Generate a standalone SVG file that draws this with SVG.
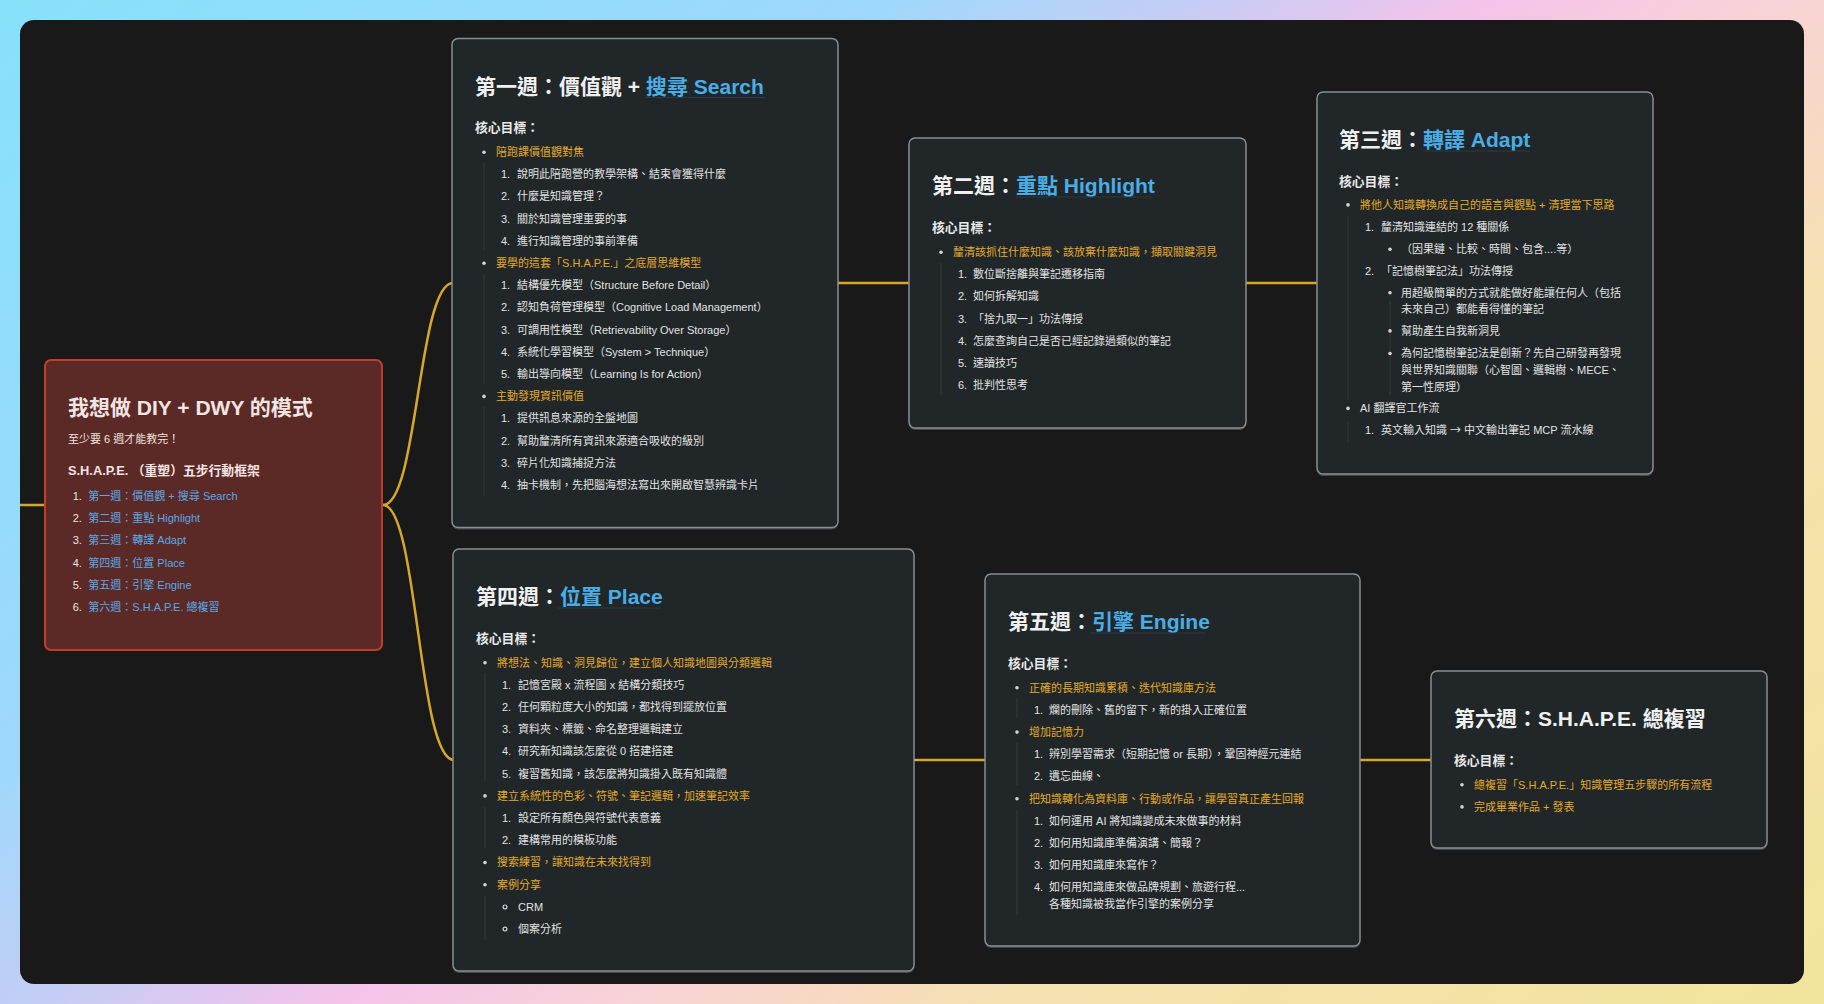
<svg xmlns="http://www.w3.org/2000/svg" width="1824" height="1004" viewBox="0 0 1824 1004">
<defs>
<linearGradient id="bg" gradientUnits="userSpaceOnUse" x1="0" y1="0" x2="1287" y2="1473">
<stop offset="0" stop-color="#86e1f9"/>
<stop offset="0.3" stop-color="#9fd8fb"/>
<stop offset="0.4" stop-color="#c4cdf5"/>
<stop offset="0.5" stop-color="#f5c3ea"/>
<stop offset="0.6" stop-color="#f8d3d6"/>
<stop offset="0.72" stop-color="#f5e0b0"/>
<stop offset="1" stop-color="#f2e49c"/>
</linearGradient>
<style>
text{font-family:'Liberation Sans','Noto Sans CJK TC',sans-serif;}
.node{fill:#212729;stroke:#8a8d90;stroke-width:1.5;}
.sh{fill:#44474a;}
.root{fill:#5b2a27;stroke:#c43d2c;stroke-width:2;}
.t{font-size:21px;font-weight:bold;fill:#f0f0f0;}
.tb{fill:#4aaee6;}
.ul{stroke:#283a44;stroke-width:1;}
.h{font-size:12.8px;font-weight:bold;fill:#e8e8e8;}
.b{font-size:11px;fill:#e2e2e2;}
.y{font-size:11px;fill:#e2aa2c;}
.lk{font-size:11px;fill:#5aa8e6;}
.rb{font-size:11px;fill:#efe2df;}
.ar{font-family:'Noto Sans CJK TC',sans-serif;}
.dot{fill:#d4d4d4;}
.odot{fill:none;stroke:#d4d4d4;stroke-width:1.2;}
.gl{stroke:#33393c;stroke-width:1;}
.con{fill:none;stroke:#d6a82a;stroke-width:2.5;}
</style>
</defs>
<rect x="0" y="0" width="1824" height="1004" fill="url(#bg)"/>
<rect x="20" y="20" width="1784" height="964" rx="14" fill="#191919"/>

<g id="connectors">
<path class="con" d="M20,505 H46"/>
<path class="con" d="M383,505 C418,505 418,283 453,283"/>
<path class="con" d="M383,505 C418,505 418,760 454,760"/>
<path class="con" d="M838,283 H909"/>
<path class="con" d="M1246,283 H1317"/>
<path class="con" d="M914,760 H985"/>
<path class="con" d="M1360,760 H1431"/>
</g>

<g id="root">
<rect class="root" x="45" y="360" width="337" height="290" rx="6"/>
<text class="t" x="68" y="415" style="fill:#f3e5e2">我想做 DIY + DWY 的模式</text>
<text class="rb" x="68" y="442.7">至少要 6 週才能教完！</text>
<text class="h" x="68" y="475" style="fill:#f3e5e2">S.H.A.P.E. （重塑）五步行動框架</text>
<text class="rb" x="72.7" y="500">1.</text><text class="lk" x="88.3" y="500">第一週：價值觀 + 搜尋 Search</text>
<text class="rb" x="72.7" y="522.2">2.</text><text class="lk" x="88.3" y="522.2">第二週：重點 Highlight</text>
<text class="rb" x="72.7" y="544.4">3.</text><text class="lk" x="88.3" y="544.4">第三週：轉譯 Adapt</text>
<text class="rb" x="72.7" y="566.6">4.</text><text class="lk" x="88.3" y="566.6">第四週：位置 Place</text>
<text class="rb" x="72.7" y="588.8">5.</text><text class="lk" x="88.3" y="588.8">第五週：引擎 Engine</text>
<text class="rb" x="72.7" y="611">6.</text><text class="lk" x="88.3" y="611">第六週：S.H.A.P.E. 總複習</text>
</g>

<g id="week1">
<rect class="sh" x="452" y="40.5" width="386" height="489" rx="6"/>
<rect class="node" x="452" y="38.5" width="386" height="489" rx="6"/>
<text class="t" x="475" y="93.5">第一週：價值觀 + <tspan class="tb">搜尋 Search</tspan></text>
<line class="ul" x1="645" y1="97.5" x2="765" y2="97.5"/>
<text class="h" x="475" y="132">核心目標：</text>
<line class="gl" x1="484" y1="163" x2="484" y2="251"/>
<line class="gl" x1="484" y1="274" x2="484" y2="384"/>
<line class="gl" x1="484" y1="407" x2="484" y2="496"/>
<circle class="dot" cx="484" cy="152.2" r="1.8"/><text class="y" x="496" y="156">陪跑課價值觀對焦</text>
<text class="b" x="501" y="178.2">1.</text><text class="b" x="517" y="178.2">說明此陪跑營的教學架構、結束會獲得什麼</text>
<text class="b" x="501" y="200.4">2.</text><text class="b" x="517" y="200.4">什麼是知識管理？</text>
<text class="b" x="501" y="222.6">3.</text><text class="b" x="517" y="222.6">關於知識管理重要的事</text>
<text class="b" x="501" y="244.8">4.</text><text class="b" x="517" y="244.8">進行知識管理的事前準備</text>
<circle class="dot" cx="484" cy="263.2" r="1.8"/><text class="y" x="496" y="267">要學的這套「S.H.A.P.E.」之底層思維模型</text>
<text class="b" x="501" y="289.2">1.</text><text class="b" x="517" y="289.2">結構優先模型（Structure Before Detail）</text>
<text class="b" x="501" y="311.4">2.</text><text class="b" x="517" y="311.4">認知負荷管理模型（Cognitive Load Management）</text>
<text class="b" x="501" y="333.6">3.</text><text class="b" x="517" y="333.6">可調用性模型（Retrievability Over Storage）</text>
<text class="b" x="501" y="355.8">4.</text><text class="b" x="517" y="355.8">系統化學習模型（System &gt; Technique）</text>
<text class="b" x="501" y="378">5.</text><text class="b" x="517" y="378">輸出導向模型（Learning Is for Action）</text>
<circle class="dot" cx="484" cy="396.4" r="1.8"/><text class="y" x="496" y="400.2">主動發現資訊價值</text>
<text class="b" x="501" y="422.4">1.</text><text class="b" x="517" y="422.4">提供訊息來源的全盤地圖</text>
<text class="b" x="501" y="444.6">2.</text><text class="b" x="517" y="444.6">幫助釐清所有資訊來源適合吸收的級別</text>
<text class="b" x="501" y="466.8">3.</text><text class="b" x="517" y="466.8">碎片化知識捕捉方法</text>
<text class="b" x="501" y="489">4.</text><text class="b" x="517" y="489">抽卡機制，先把腦海想法寫出來開啟智慧辨識卡片</text>
</g>

<g id="week2">
<rect class="sh" x="909" y="140" width="337" height="290" rx="6"/>
<rect class="node" x="909" y="138" width="337" height="290" rx="6"/>
<text class="t" x="932" y="193">第二週：<tspan class="tb">重點 Highlight</tspan></text>
<line class="ul" x1="1016" y1="197" x2="1151" y2="197"/>
<text class="h" x="932" y="231.5">核心目標：</text>
<line class="gl" x1="941" y1="263" x2="941" y2="395"/>
<circle class="dot" cx="941" cy="252.2" r="1.8"/><text class="y" x="953" y="256">釐清該抓住什麼知識、該放棄什麼知識，擷取關鍵洞見</text>
<text class="b" x="958" y="278.2">1.</text><text class="b" x="973" y="278.2">數位斷捨離與筆記遷移指南</text>
<text class="b" x="958" y="300.4">2.</text><text class="b" x="973" y="300.4">如何拆解知識</text>
<text class="b" x="958" y="322.6">3.</text><text class="b" x="973" y="322.6">「捨九取一」功法傳授</text>
<text class="b" x="958" y="344.8">4.</text><text class="b" x="973" y="344.8">怎麼查詢自己是否已經記錄過類似的筆記</text>
<text class="b" x="958" y="367">5.</text><text class="b" x="973" y="367">速讀技巧</text>
<text class="b" x="958" y="389.2">6.</text><text class="b" x="973" y="389.2">批判性思考</text>
</g>

<g id="week3">
<rect class="sh" x="1317" y="94" width="336" height="382" rx="6"/>
<rect class="node" x="1317" y="92" width="336" height="382" rx="6"/>
<text class="t" x="1339" y="147">第三週：<tspan class="tb">轉譯 Adapt</tspan></text>
<line class="ul" x1="1423" y1="151" x2="1530" y2="151"/>
<text class="h" x="1339" y="185.5">核心目標：</text>
<line class="gl" x1="1348" y1="216" x2="1348" y2="400"/>
<line class="gl" x1="1348" y1="421" x2="1348" y2="443"/>
<line class="gl" x1="1390" y1="301" x2="1390" y2="395"/>
<circle class="dot" cx="1348" cy="204.9" r="1.8"/><text class="y" x="1360" y="208.7">將他人知識轉換成自己的語言與觀點 + 清理當下思路</text>
<text class="b" x="1365" y="230.5">1.</text><text class="b" x="1381" y="230.5">釐清知識連結的 12 種關係</text>
<circle class="dot" cx="1390" cy="249.2" r="1.8"/><text class="b" x="1401" y="253">（因果鏈、比較、時間、包含....等）</text>
<text class="b" x="1365" y="274.7">2.</text><text class="b" x="1381" y="274.7">「記憶樹筆記法」功法傳授</text>
<circle class="dot" cx="1390" cy="292.7" r="1.8"/><text class="b" x="1401" y="296.5">用超級簡單的方式就能做好能讓任何人（包括</text>
<text class="b" x="1401" y="313.2">未來自己）都能看得懂的筆記</text>
<circle class="dot" cx="1390" cy="330.9" r="1.8"/><text class="b" x="1401" y="334.7">幫助產生自我新洞見</text>
<circle class="dot" cx="1390" cy="353.5" r="1.8"/><text class="b" x="1401" y="357.3">為何記憶樹筆記法是創新？先自己研發再發現</text>
<text class="b" x="1401" y="374">與世界知識關聯（心智圖、邏輯樹、MECE、</text>
<text class="b" x="1401" y="390.7">第一性原理）</text>
<circle class="dot" cx="1348" cy="408.4" r="1.8"/><text class="b" x="1360" y="412.2">AI 翻譯官工作流</text>
<text class="b" x="1365" y="433.8">1.</text><text class="b" x="1381" y="433.8">英文輸入知識 <tspan class="ar">→</tspan> 中文輸出筆記 MCP 流水線</text>
</g>

<g id="week4">
<rect class="sh" x="453" y="551" width="461" height="422" rx="6"/>
<rect class="node" x="453" y="549" width="461" height="422" rx="6"/>
<text class="t" x="476" y="604">第四週：<tspan class="tb">位置 Place</tspan></text>
<line class="ul" x1="558" y1="608" x2="661" y2="608"/>
<text class="h" x="476" y="642.5">核心目標：</text>
<line class="gl" x1="485" y1="673" x2="485" y2="781"/>
<line class="gl" x1="485" y1="807" x2="485" y2="848"/>
<line class="gl" x1="485" y1="896" x2="485" y2="940"/>
<circle class="dot" cx="485" cy="662.7" r="1.8"/><text class="y" x="497" y="666.5">將想法、知識、洞見歸位，建立個人知識地圖與分類邏輯</text>
<text class="b" x="502" y="688.7">1.</text><text class="b" x="518" y="688.7">記憶宮殿 x 流程圖 x 結構分類技巧</text>
<text class="b" x="502" y="710.9">2.</text><text class="b" x="518" y="710.9">任何顆粒度大小的知識，都找得到擺放位置</text>
<text class="b" x="502" y="733.1">3.</text><text class="b" x="518" y="733.1">資料夾、標籤、命名整理邏輯建立</text>
<text class="b" x="502" y="755.3">4.</text><text class="b" x="518" y="755.3">研究新知識該怎麼從 0 搭建搭建</text>
<text class="b" x="502" y="777.5">5.</text><text class="b" x="518" y="777.5">複習舊知識，該怎麼將知識掛入既有知識體</text>
<circle class="dot" cx="485" cy="795.9" r="1.8"/><text class="y" x="497" y="799.7">建立系統性的色彩、符號、筆記邏輯，加速筆記效率</text>
<text class="b" x="502" y="821.9">1.</text><text class="b" x="518" y="821.9">設定所有顏色與符號代表意義</text>
<text class="b" x="502" y="844.1">2.</text><text class="b" x="518" y="844.1">建構常用的模板功能</text>
<circle class="dot" cx="485" cy="862.5" r="1.8"/><text class="y" x="497" y="866.3">搜索練習，讓知識在未來找得到</text>
<circle class="dot" cx="485" cy="884.7" r="1.8"/><text class="y" x="497" y="888.5">案例分享</text>
<circle class="odot" cx="505" cy="906.9" r="1.9"/><text class="b" x="518" y="910.7">CRM</text>
<circle class="odot" cx="505" cy="929.1" r="1.9"/><text class="b" x="518" y="932.9">個案分析</text>
</g>

<g id="week5">
<rect class="sh" x="985" y="576" width="375" height="372" rx="6"/>
<rect class="node" x="985" y="574" width="375" height="372" rx="6"/>
<text class="t" x="1008" y="629">第五週：<tspan class="tb">引擎 Engine</tspan></text>
<line class="ul" x1="1090" y1="633" x2="1205" y2="633"/>
<text class="h" x="1008" y="667.5">核心目標：</text>
<line class="gl" x1="1017" y1="698" x2="1017" y2="718"/>
<line class="gl" x1="1017" y1="743" x2="1017" y2="785"/>
<line class="gl" x1="1017" y1="810" x2="1017" y2="915"/>
<circle class="dot" cx="1017" cy="687.7" r="1.8"/><text class="y" x="1029" y="691.5">正確的長期知識累積、迭代知識庫方法</text>
<text class="b" x="1034" y="713.7">1.</text><text class="b" x="1049" y="713.7">爛的刪除、舊的留下，新的掛入正確位置</text>
<circle class="dot" cx="1017" cy="732.1" r="1.8"/><text class="y" x="1029" y="735.9">增加記憶力</text>
<text class="b" x="1034" y="758.1">1.</text><text class="b" x="1049" y="758.1">辨別學習需求（短期記憶 or 長期），鞏固神經元連結</text>
<text class="b" x="1034" y="780.3">2.</text><text class="b" x="1049" y="780.3">遺忘曲線、</text>
<circle class="dot" cx="1017" cy="798.7" r="1.8"/><text class="y" x="1029" y="802.5">把知識轉化為資料庫、行動或作品，讓學習真正產生回報</text>
<text class="b" x="1034" y="824.7">1.</text><text class="b" x="1049" y="824.7">如何運用 AI 將知識變成未來做事的材料</text>
<text class="b" x="1034" y="846.9">2.</text><text class="b" x="1049" y="846.9">如何用知識庫準備演講、簡報？</text>
<text class="b" x="1034" y="869.1">3.</text><text class="b" x="1049" y="869.1">如何用知識庫來寫作？</text>
<text class="b" x="1034" y="891.3">4.</text><text class="b" x="1049" y="891.3">如何用知識庫來做品牌規劃、旅遊行程...</text>
<text class="b" x="1049" y="908">各種知識被我當作引擎的案例分享</text>
</g>

<g id="week6">
<rect class="sh" x="1431" y="673" width="336" height="177" rx="6"/>
<rect class="node" x="1431" y="671" width="336" height="177" rx="6"/>
<text class="t" x="1454" y="726">第六週：S.H.A.P.E. 總複習</text>
<text class="h" x="1454" y="764.5">核心目標：</text>
<circle class="dot" cx="1462" cy="784.7" r="1.8"/><text class="y" x="1474" y="788.5">總複習「S.H.A.P.E.」知識管理五步驟的所有流程</text>
<circle class="dot" cx="1462" cy="806.9" r="1.8"/><text class="y" x="1474" y="810.7">完成畢業作品 + 發表</text>
</g>
</svg>
